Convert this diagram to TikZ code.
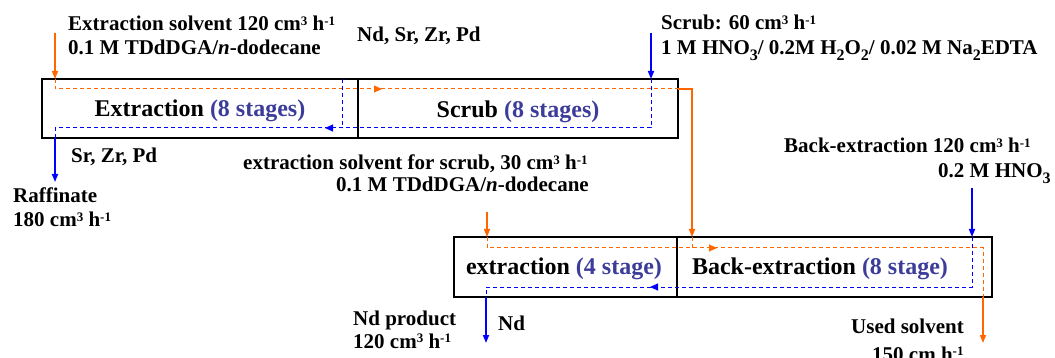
\documentclass[tikz,border=0pt]{standalone}
\usepackage{fontspec}
\setmainfont{Liberation Serif}
\usetikzlibrary{arrows.meta,decorations.markings}
\definecolor{flowor}{RGB}{255,102,0}
\definecolor{flowbl}{RGB}{0,0,255}
\definecolor{stagec}{RGB}{60,60,155}
% raised and lowered indices for units and formulae
\newcommand\upidx[1]{\raisebox{5.3pt}{\fontsize{13}{13}\selectfont #1}}
\newcommand\loidx[1]{\raisebox{-6pt}{\fontsize{16}{16}\selectfont #1}}

\begin{document}
\begin{tikzpicture}[x=1pt,y=-1pt,
  lbl/.style={font=\fontsize{21}{24}\selectfont\bfseries, inner sep=0pt, anchor=base west},
  stg/.style={font=\fontsize{24}{28}\selectfont\bfseries, inner sep=0pt, anchor=base},
  unitbox/.style={draw=black, line width=2pt, inner sep=0pt},
  feed/.style={line width=1.6pt, -{Triangle[length=8pt,width=6pt]}},
  flow/.style={line width=1pt, dash pattern=on 4pt off 3pt},
  midtip/.style={postaction=decorate, decoration={markings,
      mark=at position #1 with {\arrow{Triangle[length=8pt,width=7pt]}}}}
]
\useasboundingbox (0,0) rectangle (1055,358);

% --- mixer-settler banks ---
\node[unitbox, minimum width=316pt, minimum height=59pt] (ext)  at (200,108.5) {};
\node[unitbox, minimum width=320pt, minimum height=59pt] (scr)  at (518,108.5) {};
\node[unitbox, minimum width=223pt, minimum height=60pt] (ext2) at (565.5,267) {};
\node[unitbox, minimum width=315pt, minimum height=60pt] (back) at (834.5,267) {};

\node[stg] (extL)  at (200,117) {Extraction \textcolor{stagec}{(8 stages)}};
\node[stg] (scrL)  at (518,118) {Scrub \textcolor{stagec}{(8 stages)}};
\node[stg] (ext2L) at (564,274) {extraction \textcolor{stagec}{(4 stage)}};
\node[stg] (backL) at (820,274) {Back-extraction \textcolor{stagec}{(8 stage)}};

% --- stream labels ---
\node[lbl] (solv1) at (68,31) {Extraction solvent 120 cm\upidx{3} h\upidx{-1}};
\node[lbl] (solv2) at (68,55) {0.1 M TDdDGA/\textit{n}-dodecane};
\node[lbl] (feedL) at (357,42) {Nd, Sr, Zr, Pd};
\node[lbl] (scrub1) at (661,30) {Scrub: 60 cm\upidx{3} h\upidx{-1}};
\node[lbl] (scrub2) at (661,55) {1 M HNO\loidx{3}/ 0.2M H\loidx{2}O\loidx{2}/ 0.02 M Na\loidx{2}EDTA};
\node[lbl] (raffEl) at (71,163) {Sr, Zr, Pd};
\node[lbl] (raff1) at (13,203) {Raffinate};
\node[lbl] (raff2) at (13,227) {180 cm\upidx{3} h\upidx{-1}};
\node[lbl] (ss1) at (243,170) {extraction solvent for scrub, 30 cm\upidx{3} h\upidx{-1}};
\node[lbl] (ss2) at (336,192) {0.1 M TDdDGA/\textit{n}-dodecane};
\node[lbl] (be1) at (784,153) {Back-extraction 120 cm\upidx{3} h\upidx{-1}};
\node[lbl] (be2) at (938,178) {0.2 M HNO\loidx{3}};
\node[lbl] (nd1) at (353,325) {Nd product};
\node[lbl] (nd2) at (353,348) {120 cm\upidx{3} h\upidx{-1}};
\node[lbl] (ndL) at (498,330) {Nd};
\node[lbl] (us1) at (851,333) {Used solvent};
\node[lbl] (us2) at (872,361) {150 cm h\upidx{-1}};

% --- stream corner points ---
\coordinate (oA) at (55,33);   \coordinate (oB) at (55,79);
\coordinate (oC) at (55,89);   \coordinate (oD) at (678,89);
\coordinate (oE) at (692,89);  \coordinate (oF) at (692,237);
\coordinate (oG) at (692,248);
\coordinate (pA) at (487,212); \coordinate (pB) at (487,237);
\coordinate (pC) at (487,248); \coordinate (pD) at (983,248);
\coordinate (pE) at (983,297); \coordinate (pF) at (983,343);
\coordinate (bA) at (651,33);  \coordinate (bB) at (651,79);
\coordinate (bC) at (651,128); \coordinate (bD) at (55,128);
\coordinate (bE) at (55,138);  \coordinate (bF) at (55,182);
\coordinate (fA) at (342,79);  \coordinate (fB) at (342,128);
\coordinate (cA) at (972,188); \coordinate (cB) at (972,237);
\coordinate (cC) at (972,287); \coordinate (cD) at (486,287);
\coordinate (cE) at (486,297); \coordinate (cF) at (486,343);

% --- organic phase (orange) ---
\draw[flowor, feed] (oA) -- (oB);
\draw[flowor, flow, midtip=337pt] (oB) -- (oC) -- (oD);
\draw[flowor, feed] (oD) -- (oE) -- (oF);
\draw[flowor, flow] (oF) -- (oG);
\draw[flowor, feed] (pA) -- (pB);
\draw[flowor, flow, midtip=241pt] (pB) -- (pC) -- (pD) -- (pE);
\draw[flowor, feed] (pE) -- (pF);

% --- aqueous phase (blue) ---
\draw[flowbl, feed] (bA) -- (bB);
\draw[flowbl, flow, midtip=375pt] (bB) -- (bC) -- (bD) -- (bE);
\draw[flowbl, feed] (bE) -- (bF);
\draw[flowbl, flow] (fA) -- (fB);
\draw[flowbl, feed] (cA) -- (cB);
\draw[flowbl, flow, midtip=372pt] (cB) -- (cC) -- (cD) -- (cE);
\draw[flowbl, feed] (cE) -- (cF);
\end{tikzpicture}
\end{document}
